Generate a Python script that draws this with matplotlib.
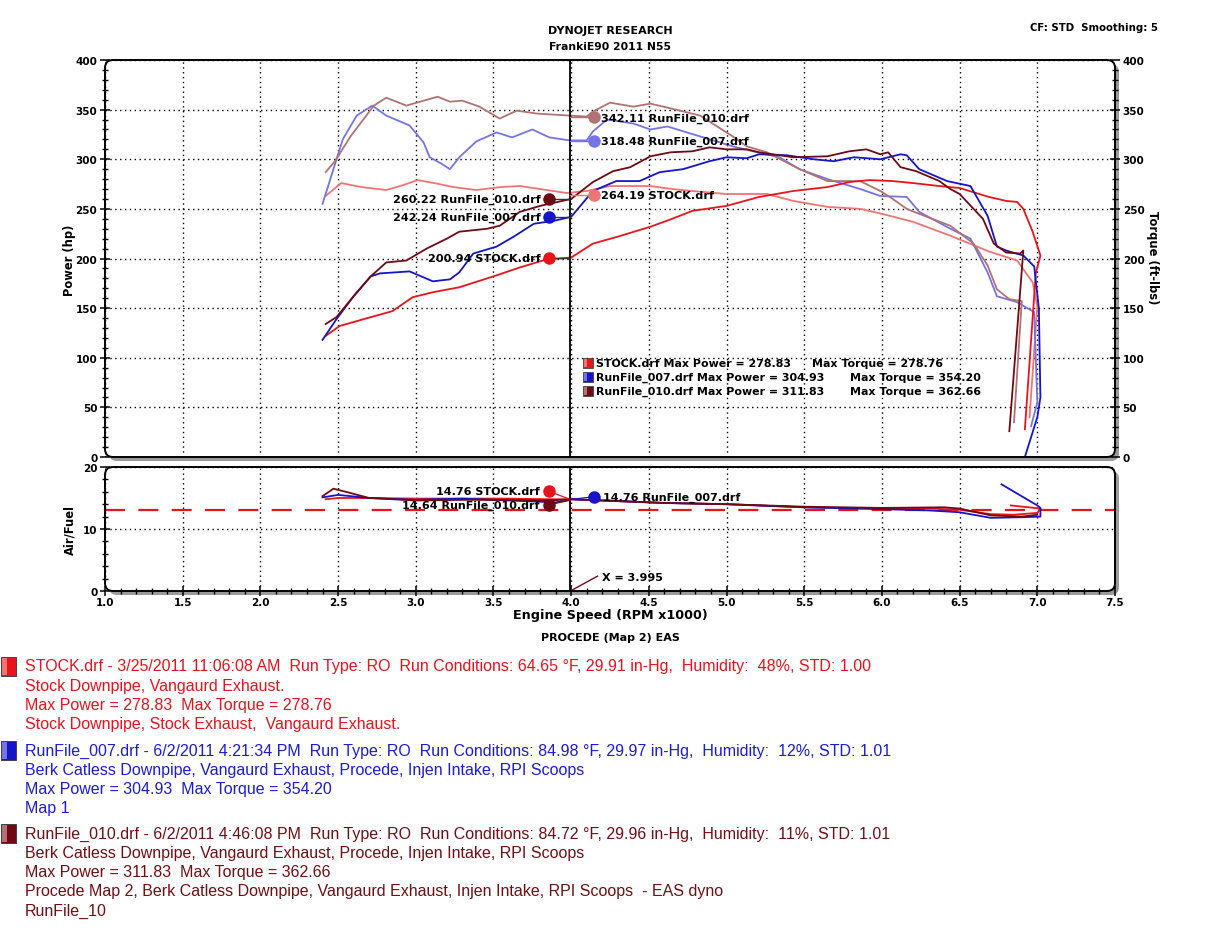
import matplotlib
matplotlib.use("Agg")
import matplotlib.pyplot as plt
from matplotlib.patches import FancyBboxPatch, Rectangle
from matplotlib.ticker import MultipleLocator, FixedLocator
from matplotlib import font_manager

W, H = 1210, 929

# ---------------- data ----------------
stock_hp_rpm = [2.42, 2.51, 2.69, 2.85, 2.98, 3.11, 3.28, 3.50, 3.67, 3.84, 4.00, 4.14, 4.30, 4.51, 4.65,
                4.78, 5.00, 5.21, 5.43, 5.65, 5.79, 5.92, 6.07, 6.20, 6.37, 6.50, 6.69, 6.80, 6.87, 6.91,
                6.97, 7.02, 6.99, 6.92]
stock_hp = [122, 132, 140, 147, 161, 166, 171, 182, 191, 199, 201, 215, 222, 232, 240,
            248, 253, 262, 268, 272, 277, 279, 278, 276, 273, 271, 262, 258, 257, 250,
            227, 203, 185, 28]

stock_tq_rpm = [2.42, 2.52, 2.65, 2.81, 2.92, 3.01, 3.12, 3.24, 3.39, 3.55, 3.67, 3.80, 3.97, 4.10, 4.25,
                4.51, 4.65, 4.78, 5.00, 5.26, 5.43, 5.65, 5.86, 6.00, 6.20, 6.44, 6.69, 6.87, 6.97, 7.00,
                6.95]
stock_tq = [263, 276, 272, 269, 274, 279, 276, 272, 269, 272, 273, 270, 266, 268, 273,
            273, 270, 268, 265, 265, 258, 252, 250, 245, 237, 223, 207, 198, 176, 152,
            40]

r007_hp_rpm = [2.40, 2.49, 2.60, 2.71, 2.77, 2.96, 3.11, 3.22, 3.28, 3.37, 3.52, 3.63, 3.76, 3.89, 4.00,
               4.14, 4.29, 4.44, 4.57, 4.72, 4.89, 5.00, 5.13, 5.21, 5.39, 5.56, 5.69, 5.82, 5.99, 6.12,
               6.16, 6.24, 6.42, 6.57, 6.68, 6.74, 6.80, 6.91, 6.98, 7.01, 7.02, 7.00, 6.92]
r007_hp = [118, 139, 162, 182, 185, 187, 177, 179, 186, 205, 212, 222, 235, 238, 242,
           268, 278, 278, 287, 290, 298, 302, 301, 305, 304, 300, 298, 302, 300, 305,
           304, 290, 278, 273, 243, 212, 208, 203, 192, 150, 60, 40, 0]

r007_tq_rpm = [2.40, 2.47, 2.53, 2.62, 2.72, 2.81, 2.96, 3.05, 3.09, 3.16, 3.22, 3.28, 3.39, 3.52, 3.62,
               3.75, 3.86, 3.99, 4.10, 4.14, 4.23, 4.40, 4.51, 4.62, 4.83, 5.04, 5.17, 5.34, 5.47, 5.65,
               5.86, 5.99, 6.16, 6.24, 6.44, 6.57, 6.68, 6.74, 6.87, 6.98, 7.00, 6.96]
r007_tq = [255, 290, 320, 344, 354, 344, 334, 317, 302, 296, 290, 302, 318, 327, 322,
           330, 322, 319, 319, 328, 340, 336, 330, 333, 323, 313, 308, 302, 290, 280,
           270, 263, 262, 247, 230, 220, 186, 162, 156, 146, 55, 31]

r010_hp_rpm = [2.42, 2.49, 2.60, 2.71, 2.81, 2.94, 3.07, 3.20, 3.28, 3.46, 3.54, 3.67, 3.80, 3.97, 4.00,
               4.14, 4.27, 4.38, 4.51, 4.64, 4.78, 4.89, 5.00, 5.13, 5.21, 5.43, 5.65, 5.79, 5.90, 5.99,
               6.04, 6.12, 6.22, 6.37, 6.44, 6.50, 6.65, 6.72, 6.80, 6.89, 6.91, 6.82]
r010_hp = [134, 141, 162, 182, 196, 198, 210, 220, 227, 230, 233, 247, 253, 259, 260,
           277, 288, 292, 303, 307, 308, 312, 310, 310, 307, 302, 303, 308, 310, 305,
           307, 292, 288, 278, 270, 265, 240, 215, 206, 205, 208, 26]

r010_tq_rpm = [2.42, 2.48, 2.58, 2.73, 2.81, 2.94, 3.14, 3.22, 3.30, 3.41, 3.54, 3.65, 3.78, 3.99, 4.10,
               4.14, 4.25, 4.40, 4.51, 4.62, 4.83, 5.04, 5.13, 5.26, 5.47, 5.65, 5.78, 5.86, 5.99, 6.07,
               6.16, 6.24, 6.44, 6.59, 6.68, 6.74, 6.82, 6.90, 6.85]
r010_tq = [287, 298, 323, 354, 362, 354, 363, 358, 359, 353, 341, 349, 346, 344, 343,
           348, 357, 353, 356, 352, 344, 323, 313, 307, 290, 278, 278, 278, 268, 260,
           250, 245, 233, 215, 193, 169, 159, 157, 35]

stock_afr_rpm = [2.42, 2.5, 2.7, 3.0, 3.3, 3.6, 3.85, 4.0, 4.3, 4.6, 5.0, 5.5, 6.0, 6.3, 6.5, 6.7, 6.85, 7.0, 7.02, 6.83]
stock_afr = [14.8, 15.0, 15.0, 14.9, 14.9, 14.9, 14.8, 14.8, 14.5, 14.2, 14.0, 13.5, 13.3, 13.3, 13.1, 12.4, 12.3, 12.6, 13.3, 13.8]

r007_afr_rpm = [2.40, 2.5, 2.7, 3.0, 3.3, 3.6, 3.9, 4.0, 4.3, 4.6, 5.0, 5.5, 6.0, 6.3, 6.5, 6.7, 6.9, 7.02, 7.02, 7.0, 6.77]
r007_afr = [15.1, 15.5, 15.0, 14.7, 14.9, 14.6, 14.3, 14.8, 14.5, 14.2, 14.0, 13.5, 13.2, 13.0, 12.7, 11.8, 11.9, 12.0, 13.4, 13.8, 17.2]

r010_afr_rpm = [2.40, 2.47, 2.55, 2.7, 3.0, 3.3, 3.6, 3.85, 4.0, 4.3, 4.6, 5.0, 5.5, 6.0, 6.4, 6.5, 6.7, 6.9, 7.0]
r010_afr = [15.3, 16.5, 16.0, 15.0, 14.6, 14.7, 14.7, 14.6, 14.8, 14.5, 14.2, 14.0, 13.6, 13.4, 13.5, 13.3, 12.2, 12.0, 12.3]

afr_target = 13.1
cursor_rpm = 3.995

run_names = ["STOCK.drf", "RunFile_007.drf", "RunFile_010.drf"]
max_power = [278.83, 304.93, 311.83]
max_torque = [278.76, 354.20, 362.66]
cursor_hp = [200.94, 242.24, 260.22]
cursor_tq = [264.19, 318.48, 342.11]
cursor_afr = [14.76, 14.76, 14.64]

notes = [
    ["STOCK.drf - 3/25/2011 11:06:08 AM  Run Type: RO  Run Conditions: 64.65 \u00b0F, 29.91 in-Hg,  Humidity:  48%, STD: 1.00",
     "Stock Downpipe, Vangaurd Exhaust.",
     "Max Power = 278.83  Max Torque = 278.76",
     "Stock Downpipe, Stock Exhaust,  Vangaurd Exhaust."],
    ["RunFile_007.drf - 6/2/2011 4:21:34 PM  Run Type: RO  Run Conditions: 84.98 \u00b0F, 29.97 in-Hg,  Humidity:  12%, STD: 1.01",
     "Berk Catless Downpipe, Vangaurd Exhaust, Procede, Injen Intake, RPI Scoops",
     "Max Power = 304.93  Max Torque = 354.20",
     "Map 1"],
    ["RunFile_010.drf - 6/2/2011 4:46:08 PM  Run Type: RO  Run Conditions: 84.72 \u00b0F, 29.96 in-Hg,  Humidity:  11%, STD: 1.01",
     "Berk Catless Downpipe, Vangaurd Exhaust, Procede, Injen Intake, RPI Scoops",
     "Max Power = 311.83  Max Torque = 362.66",
     "Procede Map 2, Berk Catless Downpipe, Vangaurd Exhaust, Injen Intake, RPI Scoops  - EAS dyno",
     "RunFile_10"],
]

# ---------------- styling ----------------
pow_colors = ["#e8141c", "#1414c8", "#6e0a14"]
tq_colors = ["#f07474", "#7474e6", "#b07272"]
note_colors = ["#e3141e", "#1c1cd0", "#6e0f14"]

avail = {f.name for f in font_manager.fontManager.ttflist}
note_font = "Liberation Sans Narrow" if "Liberation Sans Narrow" in avail else "Liberation Sans"
BF = "DejaVu Sans"

fig = plt.figure(figsize=(W / 100, H / 100), dpi=100)
fig.patch.set_facecolor("white")


def fx(x):
    return x / W


def fy(y):
    return 1 - y / H


L, R = 105, 1115
MT, MB = 61, 458
AT, AB = 468, 592

ax = fig.add_axes([fx(L), fy(MB), fx(R) - fx(L), fy(MT) - fy(MB)])
ax2 = fig.add_axes([fx(L), fy(AB), fx(R) - fx(L), fy(AT) - fy(AB)])

# rounded frames with shadow
for (t, b) in [(MT, MB), (AT, AB)]:
    shadow = FancyBboxPatch((L / 100 + 0.04, (H - b) / 100 - 0.04), (R - L) / 100, (b - t) / 100,
                            boxstyle="round,pad=0,rounding_size=0.08", transform=fig.dpi_scale_trans,
                            facecolor="#9a9a9a", edgecolor="none", zorder=-2)
    fig.patches.append(shadow)
    frame = FancyBboxPatch((L / 100, (H - b) / 100), (R - L) / 100, (b - t) / 100,
                           boxstyle="round,pad=0,rounding_size=0.08", transform=fig.dpi_scale_trans,
                           facecolor="none", edgecolor="black", linewidth=1.4, zorder=10)
    fig.patches.append(frame)
    bg = FancyBboxPatch((L / 100, (H - b) / 100), (R - L) / 100, (b - t) / 100,
                        boxstyle="round,pad=0,rounding_size=0.08", transform=fig.dpi_scale_trans,
                        facecolor="white", edgecolor="none", zorder=-1)
    fig.patches.append(bg)

for a in (ax, ax2):
    a.patch.set_visible(False)
    for s in a.spines.values():
        s.set_visible(False)

# ---------- main power/torque panel ----------
ax.set_xlim(1.0, 7.5)
ax.set_ylim(0, 400)
ax.xaxis.set_major_locator(MultipleLocator(0.5))
ax.yaxis.set_major_locator(MultipleLocator(50))
ax.yaxis.set_minor_locator(MultipleLocator(10))
ax.grid(True, which="major", color="black", linestyle=(0, (1, 2.5)), linewidth=1.0)
ax.tick_params(axis="x", which="both", bottom=False, labelbottom=False)
ax.tick_params(axis="y", which="major", direction="inout", length=7, width=1.1,
               left=True, right=True, labelleft=True, labelright=True, labelsize=7.5, pad=2)
ax.tick_params(axis="y", which="minor", direction="inout", length=5, width=1.0, left=True, right=True)
for lab in ax.get_yticklabels():
    lab.set_fontweight("bold")

series_hp = [(stock_hp_rpm, stock_hp), (r007_hp_rpm, r007_hp), (r010_hp_rpm, r010_hp)]
series_tq = [(stock_tq_rpm, stock_tq), (r007_tq_rpm, r007_tq), (r010_tq_rpm, r010_tq)]
for i in range(3):
    ax.plot(series_tq[i][0], series_tq[i][1], color=tq_colors[i], lw=1.3, zorder=3)
for i in range(3):
    ax.plot(series_hp[i][0], series_hp[i][1], color=pow_colors[i], lw=1.3, zorder=3)

ax.axvline(cursor_rpm, color="black", lw=1.3, zorder=4)
ax2.axvline(cursor_rpm, color="black", lw=1.3, zorder=4)

# cursor labels - power (left) and torque (right)
xl, xr = 3.855, 4.145
for i in range(3):
    ax.plot([cursor_rpm, xl], [cursor_hp[i], cursor_hp[i]], color="#333333", lw=1.0, zorder=5)
    ax.plot([xl], [cursor_hp[i]], "o", color=pow_colors[i], ms=8, zorder=6)
    ax.text(xl - 0.05, cursor_hp[i], f"{cursor_hp[i]:.2f} {run_names[i]}", ha="right", va="center",
            fontsize=8.1, fontweight="bold", family=BF, zorder=6)
    ax.plot([cursor_rpm, xr], [cursor_tq[i], cursor_tq[i]], color=tq_colors[i], lw=1.0, zorder=5)
    ax.plot([xr], [cursor_tq[i]], "o", color=tq_colors[i], ms=8, zorder=6)
    ax.text(xr + 0.05, cursor_tq[i], f"{cursor_tq[i]:.2f} {run_names[i]}", ha="left", va="center",
            fontsize=8.1, fontweight="bold", family=BF, zorder=6)

# in-plot legend
leg_y = [364, 378, 392]
tq_x = [812, 850, 850]
for i in range(3):
    y = leg_y[i]
    sq = Rectangle((fx(583), fy(y + 5)), fx(10), 10 / H, transform=fig.transFigure,
                   facecolor=pow_colors[i], edgecolor="#444444", lw=0.6, zorder=11)
    fig.patches.append(sq)
    hl = Rectangle((fx(584), fy(y + 4)), fx(3), 8 / H, transform=fig.transFigure,
                   facecolor=tq_colors[i], edgecolor="none", zorder=12)
    fig.patches.append(hl)
    fig.text(fx(596), fy(y), f"{run_names[i]} Max Power = {max_power[i]:.2f}", ha="left", va="center",
             fontsize=7.9, fontweight="bold", family=BF)
    fig.text(fx(tq_x[i]), fy(y), f"Max Torque = {max_torque[i]:.2f}", ha="left", va="center",
             fontsize=7.9, fontweight="bold", family=BF)

# ---------- AFR panel ----------
ax2.set_xlim(1.0, 7.5)
ax2.set_ylim(0, 20)
ax2.xaxis.set_major_locator(MultipleLocator(0.5))
ax2.xaxis.set_minor_locator(MultipleLocator(0.1))
ax2.yaxis.set_major_locator(FixedLocator([0, 10, 20]))
ax2.yaxis.set_minor_locator(MultipleLocator(2))
ax2.grid(True, which="major", color="black", linestyle=(0, (1, 2.5)), linewidth=1.0)
ax2.tick_params(axis="x", which="major", direction="inout", length=7, width=1.1, labelsize=7.5, pad=1)
ax2.tick_params(axis="x", which="minor", direction="inout", length=5, width=1.0)
ax2.tick_params(axis="y", which="major", direction="inout", length=7, width=1.1, labelsize=7.5, pad=2)
ax2.tick_params(axis="y", which="minor", direction="inout", length=5, width=1.0)
ax2.xaxis.set_major_formatter(matplotlib.ticker.FormatStrFormatter("%.1f"))
for lab in ax2.get_xticklabels() + ax2.get_yticklabels():
    lab.set_fontweight("bold")

ax2.axhline(afr_target, color="#e8141c", lw=1.6, dashes=(9, 6), zorder=2)
afr_series = [(stock_afr_rpm, stock_afr), (r007_afr_rpm, r007_afr), (r010_afr_rpm, r010_afr)]
for i in [0, 1, 2]:
    ax2.plot(afr_series[i][0], afr_series[i][1], color=pow_colors[i], lw=1.3, zorder=3)

afr_lab = [(xl, 16.1, "right"), (xr, 15.2, "left"), (xl, 13.9, "right")]
for i in range(3):
    px, py, ha = afr_lab[i]
    ax2.plot([cursor_rpm, px], [cursor_afr[i], py], color=pow_colors[i], lw=0.9, zorder=5)
    ax2.plot([px], [py], "o", color=pow_colors[i], ms=8, zorder=6)
    tx = px - 0.06 if ha == "right" else px + 0.06
    ax2.text(tx, py, f"{cursor_afr[i]:.2f} {run_names[i]}", ha=ha, va="center",
             fontsize=8, fontweight="bold", family=BF, zorder=6)

ax2.plot([cursor_rpm, 4.17], [0, 2.4], color="#6e0a14", lw=1.0, zorder=5)
ax2.text(4.2, 2.2, f"X = {cursor_rpm:.3f}", ha="left", va="center", fontsize=8,
         fontweight="bold", family=BF)

# ---------- texts ----------
fig.text(fx(610), fy(31), "DYNOJET RESEARCH", ha="center", va="center", fontsize=8, fontweight="bold", family=BF)
fig.text(fx(610), fy(47), "FrankiE90 2011 N55", ha="center", va="center", fontsize=7.8, fontweight="bold", family=BF)
fig.text(fx(1158), fy(28), "CF: STD  Smoothing: 5", ha="right", va="center", fontsize=7.3, fontweight="bold", family=BF)
fig.text(fx(70), fy(260), "Power (hp)", rotation=90, ha="center", va="center", fontsize=8.3, fontweight="bold", family=BF)
fig.text(fx(1152), fy(258), "Torque (ft-lbs)", rotation=-90, ha="center", va="center", fontsize=8.3, fontweight="bold", family=BF)
fig.text(fx(70), fy(530), "Air/Fuel", rotation=90, ha="center", va="center", fontsize=8.3, fontweight="bold", family=BF)
fig.text(fx(610), fy(615), "Engine Speed (RPM x1000)", ha="center", va="center", fontsize=9.2, fontweight="bold", family=BF)
fig.text(fx(610), fy(638), "PROCEDE (Map 2) EAS", ha="center", va="center", fontsize=8, fontweight="bold", family=BF)

# ---------- run notes ----------
block_top = [667, 751, 834]
line_step = 19.3
for i in range(3):
    y0 = block_top[i]
    icon = Rectangle((fx(1), fy(y0 + 10)), fx(15), 19 / H, transform=fig.transFigure,
                     facecolor=pow_colors[i], edgecolor="#333333", lw=0.6)
    fig.patches.append(icon)
    icon_hl = Rectangle((fx(2), fy(y0 + 9)), fx(5), 17 / H, transform=fig.transFigure,
                        facecolor=tq_colors[i], edgecolor="none")
    fig.patches.append(icon_hl)
    for j, line in enumerate(notes[i]):
        fig.text(fx(25), fy(y0 + j * line_step), line, ha="left", va="center", fontsize=11.5,
                 color=note_colors[i], family=note_font)

fig.savefig("out.png", dpi=100, facecolor="white")
